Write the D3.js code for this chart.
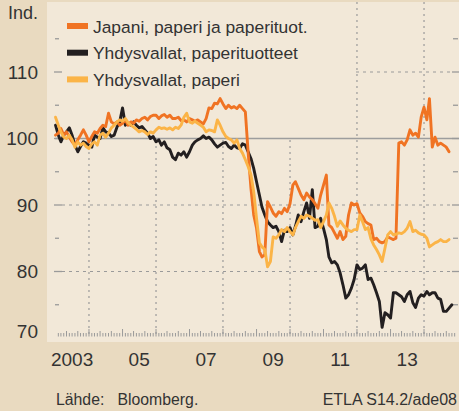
<!DOCTYPE html>
<html><head><meta charset="utf-8">
<script src="https://cdn.jsdelivr.net/npm/d3@7"></script>
<style>html,body{margin:0;padding:0;background:#e9dac0;}svg{display:block;font-family:"Liberation Sans",Arial,sans-serif;}</style>
</head><body><svg id="c" width="459" height="411"></svg>
<script>
// ---- data (monthly, starting January 2003) ----
const startMonth = "2003-01";
const seriesNames = ["Japani, paperi ja paperituot.", "Yhdysvallat, paperituotteet", "Yhdysvallat, paperi"];
const japan = [100.5,100.8,101.5,100.5,101,100.2,99.5,99,99.8,100.5,101.3,100.5,
99.5,100.3,101,100.8,101.5,102,101.8,103.8,102.5,102.2,102.5,102,
102.3,102.8,102,102.5,102.3,102.8,102.6,103,103.2,102.8,103.3,103.5,
103.5,103,103.4,103.6,103.2,103.5,103,103,103.2,102.7,102.8,102.5,
103,102.8,102.6,102.8,102.5,102.2,103,104.6,104.5,105.3,105.2,106,
105.2,104.5,105,104.6,104.8,104.5,105,104.5,104,98,92.5,88.5,
86.5,83,82.2,82.5,90.5,89.7,88.8,88.3,89,88.7,89.5,89,
90.2,93,93.5,92.5,91.5,90.8,91.8,91.2,90.8,90.2,89.5,91.5,
93,94.5,87,86.6,85.8,85,86,84.8,85.3,88.5,90.3,90,
90.2,88.8,88.3,87.5,87.2,87,84.8,85,84.5,84.3,84.5,85.2,
85,84.8,85,99.3,99.5,99,99.8,101.3,100.5,100.8,100.2,103.2,
104.7,102.8,106,98.7,100.2,99,99.3,99,98.7,98];
const usProducts = [102,100.5,99.5,100.5,101,101.6,100.5,99,98,98.8,99.5,99.3,
99,98.7,100.5,100.2,100,101.6,101,100.8,100.3,100.5,101.7,102.5,
104.6,102,102.3,102,102.5,102,101.6,101.8,101.3,100.8,100,100.3,
99.5,99.8,99,99.5,98.6,98.3,97.2,96.8,97.8,97.5,98,97.2,
98,99,99.5,99.8,100,100.4,100,100.2,99.8,99.2,98.7,99,
99.3,99.4,98.8,98.5,99,98.6,98.5,99.2,99,98,97,95.5,
93.5,91.5,89.7,88.5,87.5,87,86.6,86.8,86,84.5,86.2,86,
86.6,85.5,86.8,88.5,87.5,89,90.3,88,92.3,86.6,86.8,88,
86.5,84.8,82.2,81.3,81.5,81,79.8,78,76,76.5,77.5,78.8,
81,80.3,80.5,81,78.8,79,78,76.8,75.5,71.6,73.8,73.5,
73,76.8,76.8,76.5,76.2,75.5,76.5,77,75.3,74.6,76,76.5,
76.3,77,76.5,76.8,76.8,76,75.8,74,74,74.5,75];
const usPaper = [103.2,102,101,100.2,100,100.5,99.8,98.7,99.5,99,99.3,98.8,
98.5,99.2,99.5,99,100.5,100.8,100.2,100.8,101.6,102,102.5,102.8,
102.6,103,102.4,102,101.7,101.4,101,101.2,101,100.6,101,100.8,
101.3,101.7,101.5,101.6,101.4,101.6,101.3,101.7,101.5,102,103.2,103.8,
102.5,102.3,102.6,102.3,102,101.7,101,101.3,101.2,101,102.8,102,
101,100.3,100,99.8,99.3,99.8,98.5,97.8,96.8,95.8,94.5,92,
88,84.3,83.7,83.3,80.7,81.5,85.2,85,85.5,86.3,86,86.6,
86,85.5,86.6,87.5,88.3,88,88.5,88.3,88,87.7,87.8,86.6,
87.5,88.5,90.3,89.5,88.3,86.8,87.6,87,86.5,86.2,86,86.3,
86.3,88.5,87.5,86.3,86.6,84.9,84,83.3,82.5,81.5,83.5,85.5,
86,85.5,85.6,85.8,85.7,86,86.5,87.5,86,86.2,85.8,85.6,
85.5,85,83.7,84,84.3,84.5,84.8,84.5,84.5,84.8];
const yTickValues = [110,100,90,80,70];
const yMinorValues = [115,105,95,85,75];
const xLabelYears = [2003,2005,2007,2009,2011,2013];
const xLabels = ["2003","05","07","09","11","13"];
const gridYears = [2004,2006,2008,2010,2012,2014];
const yGridValues = [90,80];
const colors = ["#f07323","#231f20","#fbb447"];

// ---- drawing ----
const svg = d3.select("#c");
const parse = d3.timeParse("%Y-%m");
const t0 = parse(startMonth);
const monthDate = i => d3.timeMonth.offset(t0, i);

const x = d3.scaleTime().domain([new Date(2003,0,1), new Date(2015,0,1)]).range([55.5, 457.5]);
const y = d3.scaleLinear().domain([70,120]).range([338, 5.5]);

svg.append("rect").attr("width",459).attr("height",411).attr("fill","#e9dac0");
const panel = {x0:47, x1:459, y0:2, y1:342};
svg.append("rect").attr("x",panel.x0).attr("y",panel.y0).attr("width",panel.x1-panel.x0).attr("height",panel.y1-panel.y0).attr("fill","#f2e8d8");

const gridColor = "#9a9a9a";
svg.append("g").selectAll("line").data(gridYears).join("line")
  .attr("x1",d=>x(new Date(d,0,1))).attr("x2",d=>x(new Date(d,0,1)))
  .attr("y1",panel.y0).attr("y2",336)
  .attr("stroke",gridColor).attr("stroke-width",1.2).attr("stroke-dasharray","2,4");
svg.append("g").selectAll("line").data([110].concat(yGridValues)).join("line")
  .attr("x1",62).attr("x2",452)
  .attr("y1",d=>y(d)).attr("y2",d=>y(d))
  .attr("stroke",gridColor).attr("stroke-width",1.2).attr("stroke-dasharray","3,4");
svg.append("rect").attr("x",panel.x0).attr("y",panel.y0).attr("width",356-panel.x0).attr("height",y(100)-panel.y0).attr("fill","#f2e8d8");
svg.append("line").attr("x1",55).attr("x2",459).attr("y1",y(100)).attr("y2",y(100)).attr("stroke","#9d9d9d").attr("stroke-width",1.6);

const tg = svg.append("g").attr("stroke",gridColor).attr("stroke-width",1.3);
yTickValues.filter(v=>v>70).forEach(v=>{
  tg.append("line").attr("x1",54).attr("x2",62).attr("y1",y(v)).attr("y2",y(v));
  tg.append("line").attr("x1",452).attr("x2",459).attr("y1",y(v)).attr("y2",y(v));
});
yMinorValues.forEach(v=>{
  tg.append("line").attr("x1",55).attr("x2",59).attr("y1",y(v)).attr("y2",y(v));
  tg.append("line").attr("x1",453).attr("x2",458).attr("y1",y(v)).attr("y2",y(v));
});
const months = d3.timeMonth.range(new Date(2002,9,1), new Date(2015,0,1)).filter(d=>x(d)>=56 && x(d)<=456);
svg.append("g").selectAll("line").data(months).join("line")
  .attr("x1",d=>x(d)).attr("x2",d=>x(d))
  .attr("y1",d=>d.getMonth()===0 ? 329 : (d.getMonth()%4===0 ? 331 : 333))
  .attr("y2",336.5)
  .attr("stroke",gridColor).attr("stroke-width",1);

const line = d3.line().x((d,i)=>x(monthDate(i))).y(d=>y(d)).curve(d3.curveLinear);
[[usProducts,1],[japan,0],[usPaper,2]].forEach(([arr,ci])=>{
  svg.append("path").datum(arr).attr("d",line).attr("fill","none")
    .attr("stroke",colors[ci]).attr("stroke-width",2.9).attr("stroke-linejoin","round").attr("stroke-linecap","round");
});

const txt = "#333333";
svg.append("g").selectAll("text").data(yTickValues).join("text")
  .attr("x",38).attr("y",d=> d===70 ? y(d) : y(d)+6.5)
  .attr("text-anchor","end").attr("font-size",19).attr("fill",txt).text(d=>d);
svg.append("text").attr("x",38).attr("y",19).attr("text-anchor","end").attr("font-size",18).attr("fill",txt).text("Ind.");
svg.append("g").selectAll("text").data(xLabelYears).join("text")
  .attr("x",d=>x(new Date(d,6,1))).attr("y",366)
  .attr("text-anchor","middle").attr("font-size",19).attr("fill",txt).text((d,i)=>xLabels[i]);

const lg = svg.append("g");
seriesNames.forEach((n,i)=>{
  const cy = 26 + i*26.7;
  lg.append("rect").attr("x",67).attr("y",cy-3).attr("width",21).attr("height",6).attr("fill",colors[i]);
  lg.append("text").attr("x",93).attr("y",cy+6.5).attr("font-size",17.4).attr("fill",txt).text(n);
});

svg.append("text").attr("x",56).attr("y",405).attr("font-size",15.8).attr("fill",txt).attr("xml:space","preserve").text("Lähde:   Bloomberg.");
svg.append("text").attr("x",457).attr("y",405).attr("text-anchor","end").attr("font-size",16).attr("fill",txt).text("ETLA S14.2/ade08");
</script></body></html>
